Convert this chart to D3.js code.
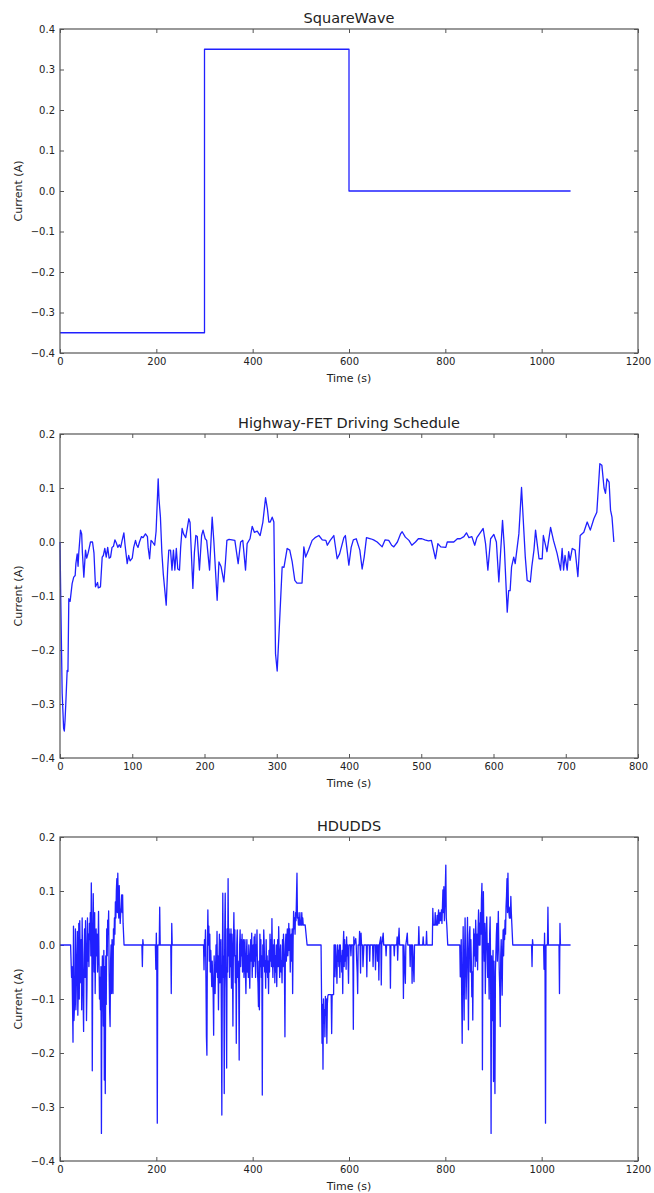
<!DOCTYPE html>
<html>
  <head>
      <meta charset="utf-8">
      <script src="https://cdn.jsdelivr.net/npm/d3@7"></script>
      <style>
        body { margin: 0; background: #fff; }
        svg text { font-family: "DejaVu Sans", sans-serif; fill: #222; }
      </style>
  </head>
  <body>
      <svg width="654" height="1193"></svg>
      <script>
      // square wave: [time (s), current (A)]
      var sqPoints = [[0,-0.35],[300,-0.35],[300,0.35],[600,0.35],[600,0],[1060,0]]
      var sqXTicks = [0,200,400,600,800,1000,1200]
      var sqYTicks = [-0.4,-0.3,-0.2,-0.1,0,0.1,0.2,0.3,0.4]

      // Highway-FET driving schedule
      var hwyPoints = [[0,0],[1,-0.10],[3,-0.28],[5,-0.345],[6,-0.35],[7,-0.33],[8,-0.30],[9.9,-0.238],[11,-0.24],[12.2,-0.105],
        [14,-0.11],[16.8,-0.077],[19,-0.065],[21,-0.062],[22,-0.04],[23.8,-0.022],[25,-0.045],[26,-0.02],[28.4,0.022],[30,0.015],
        [31,-0.02],[33,-0.065],[35.3,-0.015],[37,-0.03],[39,-0.02],[42.2,0],[45,0],[47,-0.02],[49.1,-0.083],[52,-0.075],
        [53,-0.085],[56,-0.083],[58.4,-0.028],[60,-0.025],[62,-0.012],[64,-0.028],[66,-0.01],[68,-0.03],[70,-0.028],[72,-0.01],
        [74,-0.008],[76,0.004],[78,-0.002],[80,-0.01],[82,-0.005],[84,-0.01],[86,0.003],[88.4,0.017],[90,-0.005],[93,-0.04],
        [95,-0.025],[97,-0.035],[100,-0.03],[102,-0.01],[104.5,0.003],[106,-0.005],[108,-0.01],[110,0],[112.8,0.01],[115,0.008],
        [118.3,0.015],[121,0.01],[122,-0.01],[124,-0.031],[126,0.003],[128,0],[131,-0.006],[133,0.02],[135.9,0.117],[137,0.08],
        [139,0.046],[141,-0.02],[143,-0.06],[147,-0.117],[149,-0.05],[150.6,-0.015],[153,-0.015],[155,-0.052],[157,-0.015],[159,-0.052],
        [161,-0.012],[163,-0.05],[165.4,-0.052],[167,-0.01],[169,0.025],[171,0.015],[174,0.008],[178.3,0.043],[180,0.036],[183.9,-0.086],
        [186,-0.02],[188,0.012],[190,0.01],[193,-0.052],[196,0.012],[198,0.022],[201,0.006],[203,0.003],[207,-0.052],[210.6,0.046],
        [213,0],[217.5,-0.108],[220,-0.037],[223,-0.046],[226.8,-0.074],[229,-0.037],[231,0.003],[234,0.005],[238,0.004],[242,0.003],
        [246.6,-0.04],[250,0],[253,0.003],[256.8,-0.052],[259,-0.003],[263,0.006],[266,0.029],[269,0.018],[273,0.02],[277,0.012],
        [280.8,0.037],[284.5,0.082],[287,0.062],[289,0.037],[291,0.037],[293.7,0.046],[296,0.037],[298.3,-0.207],[300.6,-0.239],[303.8,-0.151],
        [307.5,-0.046],[310,-0.047],[314.4,-0.012],[318,-0.015],[321.4,-0.037],[325,-0.071],[328,-0.076],[335,-0.076],[337.5,-0.009],[340,-0.028],
        [344,-0.015],[349,0.003],[353,0.008],[358.3,0.012],[363,0.004],[368,0.003],[370,-0.006],[374,0.003],[379,0.012],[383.6,-0.031],
        [387,-0.022],[392.9,0.008],[395,0.012],[399.8,-0.043],[403,-0.01],[406,0.004],[410,0.006],[415,-0.015],[418.2,-0.05],[421,-0.028],
        [424.2,0.008],[430,0.006],[434,0.004],[439,0],[445.9,-0.009],[450,0.004],[455,0.003],[459,-0.006],[462,-0.009],[467,0],
        [471.3,0.015],[473.6,0.019],[478,0.009],[483,0.003],[487,-0.006],[492,0],[496,0.006],[501,0.006],[505,0.004],[510,0.002],
        [514,0.003],[519.7,-0.031],[523,-0.003],[527,-0.009],[534,-0.01],[536,0],[545,0],[550,0.006],[554,0.006],[559,0.01],
        [562.6,0.017],[566,0.008],[570,0.01],[574,-0.006],[577,0.008],[582,0.018],[585.7,0.025],[589,-0.003],[592.2,-0.052],[596,0.006],
        [600.5,0.014],[604,0],[607.4,-0.074],[610,-0.015],[612.5,0.04],[615,-0.01],[619,-0.13],[621,-0.09],[623,-0.09],[625,-0.046],
        [628,-0.028],[630,-0.04],[635.1,0.015],[638.8,0.101],[642,0.021],[644,-0.028],[646.6,-0.071],[651,-0.074],[653,-0.046],[656,-0.015],
        [658.2,0.022],[663,-0.031],[667.4,-0.031],[669,0.012],[674,-0.018],[679,0.027],[683,0.003],[688,-0.021],[692.8,-0.052],[695,-0.012],
        [697,-0.052],[699,-0.025],[702,-0.052],[704,-0.018],[706,-0.034],[709,-0.012],[713,-0.015],[716.8,-0.064],[720,0.012],[725,0.018],
        [729.7,0.037],[734,0.022],[738.9,0.043],[743,0.055],[747.2,0.145],[750,0.142],[753,0.1],[755,0.09],[757,0.117],[760,0.111],
        [762,0.059],[764,0.046],[766.6,0]]
      var hwyXTicks = [0,100,200,300,400,500,600,700,800]
      var hwyYTicks = [-0.4,-0.3,-0.2,-0.1,0,0.1,0.2]

      // HDUDDS
      var hdPoints = [[0,0],[22,0],[24,-0.06],[25,-0.04],[27,-0.18],[28,0.035],[29,-0.14],[31,-0.09],[32,0.03],[33,-0.12],
        [35,-0.02],[36,0.025],[37,-0.13],[38,-0.08],[39,0.04],[40,-0.10],[41,0.045],[42,-0.03],[43,-0.07],[44,0.01],
        [45,-0.12],[46,0.05],[47,-0.04],[49,-0.16],[50,-0.02],[51,0.03],[52,-0.06],[53,0.045],[54,0],[55,-0.14],
        [56,-0.08],[57,0.05],[58,-0.03],[59,0.02],[60,-0.04],[61,0.04],[62,0.01],[63,0.06],[64,-0.02],[65,0.115],
        [66,0.03],[67,-0.233],[68,-0.04],[69,0.095],[70,0.02],[71,-0.05],[72,0.06],[73,-0.09],[74,-0.01],[75,0.03],
        [76,-0.02],[77,0.02],[78,-0.05],[79,-0.01],[80,0.062],[81,-0.03],[82,-0.10],[83,-0.06],[84,-0.12],[85,-0.04],
        [86,-0.349],[87,-0.08],[88,-0.02],[89,-0.06],[90,-0.15],[91,-0.01],[92,-0.25],[93,-0.04],[94,-0.275],[95,-0.02],
        [96,-0.11],[97,0.03],[98,-0.02],[99,0.046],[100,0.02],[101,0.063],[102,-0.05],[103,-0.12],[104,-0.151],[105,-0.03],
        [106,0],[107,-0.09],[108,0.01],[109,-0.06],[110,-0.09],[111,0.03],[112,0],[113,0.05],[114,0.02],[115,0.08],
        [116,0.05],[117,0.10],[118,0.123],[119,0.06],[120,0.133],[121,0.07],[122,0.05],[123,0.11],[124,0.065],[125,0.04],
        [126,0.06],[127,0.07],[128,0.093],[129,0.06],[130,0.093],[131,0.04],[133,0],
        [170,0],[171,-0.04],[172,0.01],[173,0],[198,0],[199,-0.045],[200,0.022],[201,-0.05],[202,-0.33],[203,0],
        [206,0],[207,0.07],[208,0],[230,0],[231,-0.09],[232,0.04],[233,0],[298,0],
        [299,-0.046],[300,0.01],[301,-0.02],[302,0.028],[303,-0.06],[304,-0.17],[305,-0.204],[306,0],[307,0.065],[308,0],
        [309,0.035],[310,-0.03],[311,0.02],[312,-0.05],[313,-0.01],[314,-0.04],[315,-0.077],[316,-0.03],[317,-0.06],[318,-0.09],
        [319,-0.167],[320,-0.02],[321,-0.06],[322,-0.09],[323,-0.04],[324,0],[325,-0.05],[326,0.025],[327,-0.06],[328,-0.02],
        [329,-0.12],[330,-0.03],[331,0.02],[332,-0.07],[333,-0.04],[334,0.01],[335,-0.13],[336,-0.315],[337,-0.05],[338,0.096],
        [339,-0.06],[340,-0.02],[341,-0.275],[342,0.02],[343,0.096],[344,-0.04],[345,-0.08],[346,-0.228],[347,0.03],[348,-0.05],
        [349,0.123],[350,-0.02],[351,0.03],[352,-0.06],[353,0.02],[354,-0.04],[355,0.03],[356,-0.08],[357,0.02],[358,-0.03],
        [359,-0.15],[360,0],[361,0.06],[362,-0.02],[363,0.028],[364,-0.07],[365,-0.02],[366,-0.182],[367,0],[368,0.028],
        [369,-0.06],[370,-0.03],[371,-0.07],[372,-0.213],[373,0],[374,0.028],[375,-0.04],[376,0.01],[377,-0.02],[378,0.02],
        [379,-0.05],[380,-0.02],[381,0.01],[382,-0.06],[383,-0.02],[384,0.01],[385,-0.05],[386,-0.09],[387,-0.02],[388,0.01],
        [389,-0.05],[390,-0.02],[391,-0.06],[392,0],[393,-0.04],[394,-0.08],[395,-0.02],[396,0.01],[397,-0.03],[398,0.022],
        [399,-0.06],[400,-0.02],[401,0],[402,-0.04],[403,0.015],[404,-0.03],[405,0.02],[406,-0.06],[407,0],[408,-0.02],
        [409,0.028],[410,-0.05],[411,-0.07],[412,-0.114],[413,-0.03],[414,-0.12],[415,0.02],[416,-0.04],[417,0.01],[418,-0.06],
        [419,-0.02],[420,-0.278],[421,0],[422,-0.04],[423,0.028],[424,0],[425,-0.05],[426,-0.03],[427,-0.08],[428,0.01],
        [429,-0.05],[430,-0.02],[431,-0.06],[432,-0.03],[433,-0.09],[434,-0.01],[435,-0.05],[436,0.02],[437,-0.03],[438,0.01],
        [439,-0.04],[440,0.049],[441,-0.02],[442,-0.06],[443,0],[444,-0.04],[445,0.01],[446,-0.07],[447,-0.02],[448,-0.05],
        [449,0],[450,-0.077],[451,-0.02],[452,0.01],[453,-0.04],[454,0.034],[455,-0.01],[456,-0.06],[457,-0.02],[458,0],
        [459,-0.05],[460,-0.03],[461,-0.07],[462,0.01],[463,-0.04],[464,0.02],[465,-0.01],[466,-0.05],[467,-0.17],[468,0],
        [469,0.02],[470,-0.03],[471,0.01],[472,0.03],[473,-0.02],[474,0],[475,0.04],[476,-0.01],[477,0.03],[478,-0.05],
        [479,0],[480,0.02],[481,-0.03],[482,0.03],[483,-0.09],[484,0.01],[485,0.062],[486,0.03],[487,0.05],[488,0.02],
        [489,0.06],[490,0.045],[491,0.09],[492,0.133],[493,0.05],[494,0.06],[495,0.037],[496,0.05],[497,0.037],[498,0.06],
        [499,0.037],[500,0.045],[501,0.037],[502,0.06],[503,0.037],[504,0.05],[505,0.037],[509,0.037],[513,0],[542,0],
        [543,-0.095],[544,-0.182],[545,-0.11],[546,-0.23],[547,-0.10],[548,-0.145],[549,-0.12],[550,-0.17],[551,-0.095],[552,-0.13],
        [553,-0.10],[554,-0.182],[555,-0.11],[556,-0.095],[557,-0.092],[563,-0.092],[564,-0.164],[565,-0.092],[568,-0.092],[569,0],
        [570,0],[571,-0.059],[572,0],[573,-0.02],[574,-0.04],[575,-0.071],[576,0],[577,-0.03],[578,-0.01],[579,-0.04],
        [580,0],[581,-0.06],[582,0],[583,-0.03],[584,-0.02],[585,-0.05],[586,-0.01],[587,-0.09],[588,0],[589,0.025],
        [590,-0.04],[591,0.01],[592,-0.03],[593,0],[594,-0.045],[595,0.015],[596,-0.02],[597,0],[598,-0.03],[599,-0.071],
        [600,0],[603,0],[604,-0.02],[605,0],[608,0],[609,-0.156],[610,0.015],[611,0],[614,0.012],[615,0],
        [616,-0.03],[617,-0.05],[618,-0.09],[619,0],[621,0],[622,0.025],[623,0],[624,-0.052],[625,0.022],[626,0],
        [628,0],[629,-0.04],[630,-0.02],[631,0],[636,0],[637,-0.059],[638,0],[642,0],[643,-0.03],[644,0],
        [649,0],[650,-0.04],[651,0],[654,0],[655,-0.046],[656,0],[658,0],[659,-0.03],[660,0],[661,0],
        [662,-0.065],[663,0],[666,0.015],[667,-0.074],[668,0],[671,0.022],[672,0],[676,0],[677,-0.02],[678,0],
        [685,0],[686,-0.08],[687,0],[693,0],[694,-0.02],[695,0],[699,0],[700,0.015],[701,-0.028],[702,0],
        [704,0.031],[705,0],[712,0],[713,-0.099],[714,0],[717,-0.071],[718,0],[721,0.022],[722,0],[726,0],
        [727,-0.04],[728,0],[730,0],[731,-0.071],[732,0],[735,-0.068],[736,0],[744,0],[745,0.034],[746,0],
        [753,0],[754,0.015],[755,0],[760,0],[761,0.025],[762,0],[773,0],[774,0.068],[775,0.037],[778,0.037],
        [779,0.06],[780,0.037],[782,0.037],[783,0.055],[784,0.037],[786,0.065],[787,0.04],[789,0.06],[790,0.045],[792,0.065],
        [793,0.04],[795,0.102],[796,0.06],[797,0.108],[798,0.045],[799,0.07],[801,0.148],[802,0.05],[803,0.037],[805,0],
        [830,0],[831,-0.059],[832,-0.04],[833,0.01],[834,-0.10],[835,-0.182],[836,-0.05],[837,0.034],[838,-0.06],[839,-0.139],
        [840,-0.02],[841,0.05],[842,-0.03],[843,-0.10],[844,-0.06],[845,0],[846,0.051],[847,-0.04],[848,-0.157],[849,-0.02],
        [850,0.02],[851,0.034],[852,-0.05],[853,0.01],[854,-0.03],[855,-0.096],[856,-0.05],[857,-0.139],[858,-0.03],[859,0.03],
        [860,-0.02],[861,0.02],[862,-0.04],[863,0.046],[864,0.01],[865,-0.03],[866,0.02],[867,-0.046],[868,0.03],[869,0.065],
        [870,0],[871,0.04],[872,0],[873,0.06],[874,0.02],[875,0.085],[876,0.114],[877,-0.231],[878,0],[879,0.099],
        [880,0.02],[881,-0.03],[882,0.04],[883,-0.09],[884,-0.02],[885,0.03],[886,0.052],[887,-0.01],[888,-0.06],[889,0.003],
        [890,-0.04],[891,-0.10],[892,0.02],[893,0.052],[894,-0.04],[895,-0.349],[896,-0.02],[897,-0.08],[898,-0.14],[899,-0.01],
        [900,-0.253],[901,-0.03],[902,-0.15],[903,-0.275],[904,-0.05],[905,-0.015],[906,0.02],[907,0.04],[908,-0.03],[909,0.01],
        [910,0.062],[911,0],[912,-0.05],[913,-0.08],[914,-0.151],[915,-0.02],[916,0.01],[917,-0.04],[918,-0.093],[919,-0.01],
        [920,0.028],[921,-0.02],[922,0.03],[923,0.01],[924,0.046],[925,0.02],[926,0.07],[927,0.09],[928,0.123],[929,0.06],
        [930,0.133],[931,0.07],[932,0.06],[933,0.05],[934,0.07],[935,0.05],[936,0.09],[937,0.06],[938,0.04],[940,0],
        [979,0],[980,-0.04],[981,0.01],[982,0],[1004,0],[1005,-0.045],[1006,0.022],[1007,-0.05],[1008,-0.33],[1009,0],
        [1012,0],[1013,0.07],[1014,0],[1036,0],[1037,-0.09],[1038,0.04],[1039,0],[1060,0]]
      var hdXTicks = [0,200,400,600,800,1000,1200]
      var hdYTicks = [-0.4,-0.3,-0.2,-0.1,0,0.1,0.2]

      var panels = [
        {title: 'SquareWave', data: sqPoints, xTicks: sqXTicks, yTicks: sqYTicks, top: 29},
        {title: 'Highway-FET Driving Schedule', data: hwyPoints, xTicks: hwyXTicks, yTicks: hwyYTicks, top: 434},
        {title: 'HDUDDS', data: hdPoints, xTicks: hdXTicks, yTicks: hdYTicks, top: 837}
      ]

      var left = 60, right = 638, plotH = 324
      var svg = d3.select('svg')

      panels.forEach(function(p){
        var x = d3.scaleLinear()
          .domain(d3.extent(p.xTicks))
          .range([left, right])
        var y = d3.scaleLinear()
          .domain(d3.extent(p.yTicks))
          .range([p.top + plotH, p.top])

        var g = svg.append('g')
        var fmt = d3.format('.1f')

        // ticks point inward on all four sides, labels only bottom + left
        g.append('g')
          .attr('transform', 'translate(0,' + (p.top + plotH) + ')')
          .call(d3.axisBottom(x).tickValues(p.xTicks).tickSize(-4).tickPadding(5).tickFormat(d3.format('d')))
        g.append('g')
          .attr('transform', 'translate(0,' + p.top + ')')
          .call(d3.axisTop(x).tickValues(p.xTicks).tickSize(-4).tickFormat(''))
        g.append('g')
          .attr('transform', 'translate(' + left + ',0)')
          .call(d3.axisLeft(y).tickValues(p.yTicks).tickSize(-4).tickPadding(5).tickFormat(fmt))
        g.append('g')
          .attr('transform', 'translate(' + right + ',0)')
          .call(d3.axisRight(y).tickValues(p.yTicks).tickSize(-4).tickFormat(''))

        g.selectAll('.domain').remove()
        g.selectAll('.tick line').attr('stroke', '#555')
        g.selectAll('.tick text')
          .attr('font-size', 10)
          .attr('font-family', 'DejaVu Sans')
          .attr('fill', '#222')

        var line = d3.line()
          .x(function(d){ return x(d[0]) })
          .y(function(d){ return y(d[1]) })

        g.append('path')
          .datum(p.data)
          .attr('d', line)
          .attr('fill', 'none')
          .attr('stroke', '#2020ff')
          .attr('stroke-width', 1.3)
          .attr('stroke-linejoin', 'round')

        g.append('rect')
          .attr('x', left)
          .attr('y', p.top)
          .attr('width', right - left)
          .attr('height', plotH)
          .attr('fill', 'none')
          .attr('stroke', '#555')
          .attr('stroke-width', 1.2)

        g.append('text')
          .attr('x', (left + right) / 2)
          .attr('y', p.top - 6)
          .attr('text-anchor', 'middle')
          .attr('font-size', 14.5)
          .text(p.title)

        g.append('text')
          .attr('x', (left + right) / 2)
          .attr('y', p.top + plotH + 29)
          .attr('text-anchor', 'middle')
          .attr('font-size', 11)
          .text('Time (s)')

        g.append('text')
          .attr('transform', 'translate(22,' + (p.top + plotH / 2) + ') rotate(-90)')
          .attr('text-anchor', 'middle')
          .attr('font-size', 11)
          .text('Current (A)')
      })
      </script>
  </body>
</html>
